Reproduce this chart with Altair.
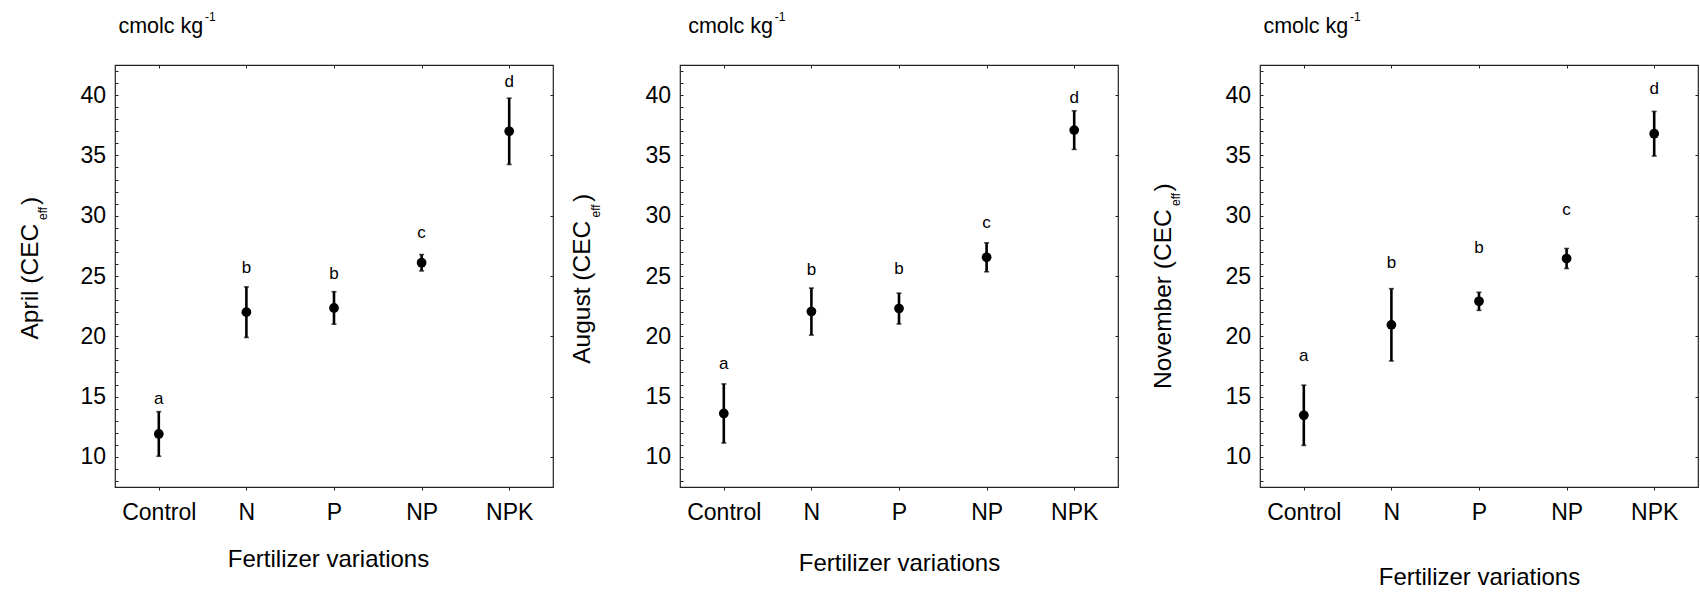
import altair as alt
import pandas as pd

# ---------------- data ----------------
categories = ["Control", "N", "P", "NP", "NPK"]
letters = ["a", "b", "b", "c", "d"]

april_mean = [11.9, 22.0, 22.35, 26.1, 37.0]
april_err = [1.85, 2.1, 1.35, 0.68, 2.75]
april_letter_y = [14.8, 25.7, 25.2, 28.6, 41.1]

august_mean = [13.6, 22.05, 22.3, 26.55, 37.1]
august_err = [2.45, 1.95, 1.28, 1.2, 1.6]
august_letter_y = [17.7, 25.5, 25.6, 29.4, 39.8]

november_mean = [13.45, 20.95, 22.9, 26.45, 36.8]
november_err = [2.5, 3.0, 0.75, 0.83, 1.85]
november_letter_y = [18.4, 26.1, 27.3, 30.5, 40.5]

months = ["April", "August", "November"]
y_domain = [7.5, 42.5]
y_major = [10, 15, 20, 25, 30, 35, 40]
y_minor = list(range(8, 43))
x_title = "Fertilizer variations"
unit_text = "cmolc kg"
unit_sup = "-1"
sub_text = "eff"

# ---------------- layout constants ----------------
W, H = 438, 422
FONT = "Liberation Sans"
INK = "#000000"
FRAME = "#222222"


def panel(month, means, errs, letter_y, tb_x, t_main, t_sub, t_par, xt_y, unit_dx, xt_x=None):
    df = pd.DataFrame({
        "cat": categories,
        "mean": means,
        "lo": [m - e for m, e in zip(means, errs)],
        "hi": [m + e for m, e in zip(means, errs)],
        "letter": letters,
        "ly": letter_y,
    })
    base = alt.Chart(df)
    xs = alt.Scale(type="point", domain=categories, padding=0.5)
    ys = alt.Scale(domain=y_domain, nice=False, zero=False)

    xaxis_kw = dict(orient="bottom", title=x_title, labelAngle=0, labelFontSize=23,
                    tickSize=3, labelPadding=11.5, domain=False, titleFontSize=24,
                    titleFontWeight="normal", titleY=xt_y, titleBaseline="alphabetic",
                    labelColor=INK, titleColor=INK, tickColor=FRAME, grid=False)
    if xt_x is not None:
        xaxis_kw["titleX"] = xt_x
    x_bottom = alt.X("cat:N", scale=xs, sort=categories, axis=alt.Axis(**xaxis_kw))
    y_left = alt.Y("lo:Q", scale=ys, axis=alt.Axis(
        orient="left", title=None, values=y_minor, labelOverlap=False,
        labelExpr="datum.value % 5 === 0 ? datum.label : ''",
        labelFontSize=23, labelPadding=12.5, tickSize={"expr": "-3"},
        domain=False, grid=False, labelColor=INK, tickColor=FRAME))

    bars = base.mark_rule(color=INK, strokeWidth=2.6).encode(
        x=x_bottom, y=y_left, y2="hi:Q")

    cap_lo = base.mark_tick(color=INK, orient="horizontal", size=5, thickness=1.6).encode(
        x=alt.X("cat:N", scale=xs, sort=categories, axis=None),
        y=alt.Y("lo:Q", scale=ys, axis=None))
    cap_hi = base.mark_tick(color=INK, orient="horizontal", size=5, thickness=1.6).encode(
        x=alt.X("cat:N", scale=xs, sort=categories, axis=None),
        y=alt.Y("hi:Q", scale=ys, axis=None))

    dots = base.mark_circle(color=INK, opacity=1, size=95).encode(
        x=alt.X("cat:N", scale=xs, sort=categories, axis=alt.Axis(
            orient="top", labels=False, title=None, tickSize={"expr": "-3"},
            domain=False, grid=False, tickColor=FRAME)),
        y=alt.Y("mean:Q", scale=ys, axis=alt.Axis(
            orient="right", labels=False, title=None, values=y_major,
            tickSize={"expr": "-3"}, domain=False, grid=False, tickColor=FRAME)))

    lets = base.mark_text(color=INK, fontSize=17, baseline="middle", font=FONT).encode(
        x=alt.X("cat:N", scale=xs, sort=categories, axis=None),
        y=alt.Y("ly:Q", scale=ys, axis=None),
        text="letter:N")

    tdf = pd.DataFrame({"t": [month + " (CEC"], "s": [sub_text], "p": [")"],
                        "u": [unit_text], "e": [unit_sup]})
    tb = alt.Chart(tdf)
    t1 = tb.mark_text(angle=270, align="left", baseline="alphabetic", fontSize=24.5,
                      font=FONT, color=INK).encode(
        text="t:N", x=alt.value(tb_x), y=alt.value(t_main))
    t2 = tb.mark_text(angle=270, align="left", baseline="alphabetic", fontSize=12,
                      font=FONT, color=INK).encode(
        text="s:N", x=alt.value(tb_x + 9.5), y=alt.value(t_sub))
    t3 = tb.mark_text(angle=270, align="left", baseline="alphabetic", fontSize=24.5,
                      font=FONT, color=INK).encode(
        text="p:N", x=alt.value(tb_x), y=alt.value(t_par))
    u1 = tb.mark_text(align="left", baseline="alphabetic", fontSize=21.5,
                      font=FONT, color=INK).encode(
        text="u:N", x=alt.value(unit_dx), y=alt.value(-32.3))
    u2 = tb.mark_text(align="left", baseline="alphabetic", fontSize=12,
                      font=FONT, color=INK).encode(
        text="e:N", x=alt.value(unit_dx + 86.6), y=alt.value(-44))

    return alt.layer(bars, cap_lo, cap_hi, dots, lets, t1, t2, t3, u1, u2).resolve_axis(
        x="independent", y="independent").properties(width=W, height=H)


def spacer(w):
    return alt.Chart(pd.DataFrame({"v": [0]})).mark_point(opacity=0).encode(
        x=alt.value(0), y=alt.value(0)).properties(
        width=w, height=H, view=alt.ViewBackground(stroke="transparent"))


p1 = panel(months[0], april_mean, april_err, april_letter_y,
           -77.5, 274.5, 155, 140, 79.5, 3.4, xt_x=213)
p2 = panel(months[1], august_mean, august_err, august_letter_y,
           -90, 298.8, 152.5, 137, 83.5, 8.2)
p3 = panel(months[2], november_mean, november_err, november_letter_y,
           -89.3, 324, 141, 126.5, 97, 3.4)

chart = alt.hconcat(p1, spacer(127), p2, spacer(142), p3, spacing=0, bounds="flush").properties(
    padding={"left": 16, "top": 10, "right": 0, "bottom": 0},
    background="white",
).configure_view(stroke=FRAME, strokeWidth=1.2).configure_axis(
    labelFont=FONT, titleFont=FONT
).configure_text(font=FONT)

chart.save("out.html", embed_options={"renderer": "svg", "actions": False})
